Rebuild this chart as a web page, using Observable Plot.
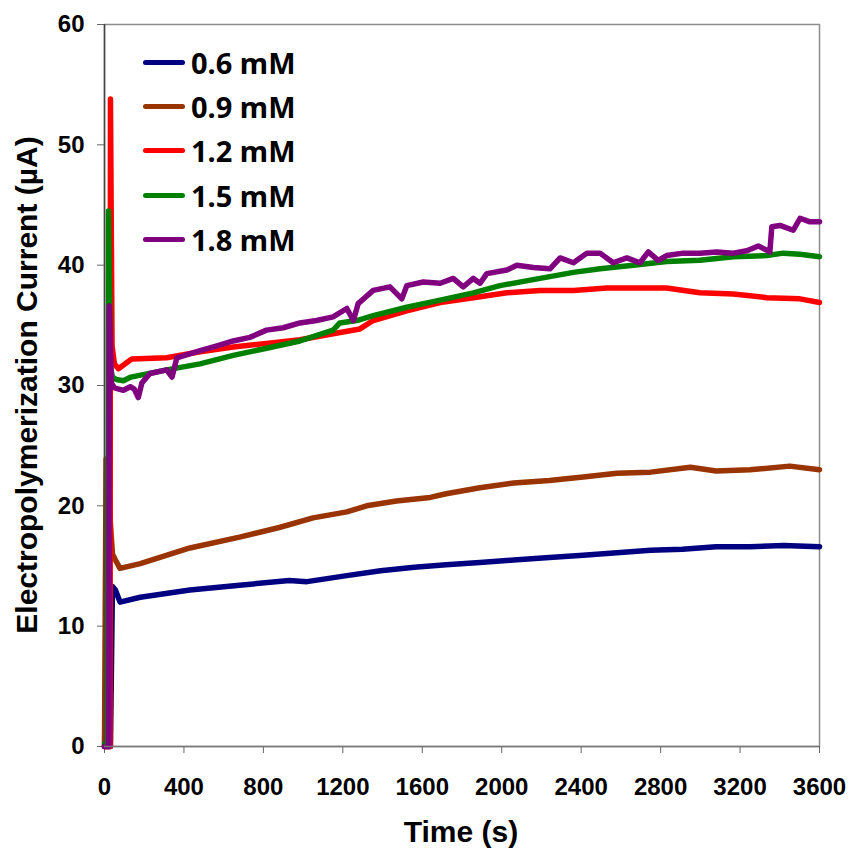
<!DOCTYPE html>
<html><head><meta charset="utf-8">
<script src="https://cdn.jsdelivr.net/npm/d3@7"></script>
<script src="https://cdn.jsdelivr.net/npm/@observablehq/plot@0.6"></script>
<style>
body{margin:0;background:#fff;}
#wrap{position:relative;width:850px;height:851px;}
#legend{position:absolute;left:143px;top:40px;font-family:"Noto Sans",sans-serif;font-weight:bold;font-size:29px;color:#000;}
.row{display:flex;align-items:center;height:44.3px;}
.sw{width:42px;height:5px;border-radius:2.5px;margin-right:6px;}
</style></head><body><div id="wrap"><div id="legend"></div></div>
<script>
const seriesNames = ["0.6 mM", "0.9 mM", "1.2 mM", "1.5 mM", "1.8 mM"];
const seriesColors = ["#000080", "#993300", "#ff0000", "#008000", "#800080"];
const xTicks = [0, 400, 800, 1200, 1600, 2000, 2400, 2800, 3200, 3600];
const yTicks = [0, 10, 20, 30, 40, 50, 60];

const t06 = [0, 30, 40, 55, 78, 180, 430, 680, 930, 1020, 1220, 1390, 1560, 1720, 1890, 2060, 2240, 2410, 2580, 2750, 2910, 3080, 3250, 3420, 3600];
const v06 = [0, 0, 13.3, 13.0, 12.0, 12.4, 13.0, 13.4, 13.8, 13.7, 14.2, 14.6, 14.9, 15.1, 15.3, 15.5, 15.7, 15.9, 16.1, 16.3, 16.4, 16.6, 16.6, 16.7, 16.6];

const t09 = [0, 8, 40, 55, 78, 180, 430, 680, 880, 1050, 1220, 1320, 1470, 1640, 1720, 1890, 2060, 2240, 2410, 2580, 2750, 2950, 3080, 3250, 3450, 3600];
const v09 = [0, 23.9, 16.0, 15.5, 14.8, 15.2, 16.5, 17.4, 18.2, 19.0, 19.5, 20.0, 20.4, 20.7, 21.0, 21.5, 21.9, 22.1, 22.4, 22.7, 22.8, 23.2, 22.9, 23.0, 23.3, 23.0];

const t12 = [0, 28, 30, 38, 50, 70, 137, 313, 481, 648, 816, 984, 1151, 1286, 1353, 1522, 1690, 1857, 2026, 2193, 2361, 2530, 2663, 2830, 2998, 3166, 3335, 3502, 3600];
const v12 = [0, 0, 53.8, 33.3, 31.8, 31.4, 32.2, 32.3, 32.8, 33.2, 33.5, 33.8, 34.3, 34.7, 35.4, 36.2, 36.9, 37.3, 37.7, 37.9, 37.9, 38.1, 38.1, 38.1, 37.7, 37.6, 37.3, 37.2, 36.9];

const t15 = [0, 18, 20, 30, 40, 60, 95, 133, 313, 481, 648, 816, 984, 1151, 1185, 1270, 1353, 1522, 1690, 1857, 1991, 2193, 2361, 2495, 2663, 2830, 2998, 3166, 3335, 3418, 3502, 3600];
const v15 = [0.2, 0.2, 44.5, 31.5, 30.7, 30.5, 30.4, 30.7, 31.3, 31.8, 32.5, 33.1, 33.7, 34.6, 35.2, 35.4, 35.8, 36.5, 37.1, 37.7, 38.3, 38.9, 39.4, 39.7, 40.0, 40.3, 40.4, 40.7, 40.8, 41.0, 40.9, 40.7];

const t18 = [0, 22, 24, 35, 50, 95, 130, 150, 170, 188, 229, 313, 340, 364, 481, 566, 648, 732, 816, 900, 984, 1068, 1151, 1220, 1253, 1277, 1353, 1437, 1497, 1522, 1605, 1690, 1756, 1806, 1857, 1891, 1925, 2026, 2076, 2160, 2243, 2294, 2361, 2429, 2495, 2561, 2630, 2696, 2738, 2788, 2830, 2914, 2998, 3082, 3166, 3234, 3292, 3350, 3360, 3401, 3468, 3502, 3552, 3600];
const v18 = [0, 0, 36.6, 30.2, 29.8, 29.6, 29.9, 29.7, 29.0, 30.2, 31.0, 31.3, 30.7, 32.3, 32.9, 33.3, 33.7, 34.0, 34.6, 34.8, 35.2, 35.4, 35.7, 36.4, 35.4, 36.8, 37.9, 38.2, 37.2, 38.3, 38.6, 38.5, 38.9, 38.2, 38.9, 38.5, 39.3, 39.6, 40.0, 39.8, 39.7, 40.6, 40.2, 41.0, 41.0, 40.2, 40.6, 40.2, 41.1, 40.4, 40.8, 41.0, 41.0, 41.1, 41.0, 41.2, 41.6, 41.1, 43.2, 43.3, 42.9, 43.9, 43.6, 43.6];

const seriesT = [t06, t09, t12, t15, t18];
const seriesV = [v06, v09, v12, v15, v18];
const data = seriesNames.flatMap((name, k) => seriesT[k].map((t, i) => ({t, v: seriesV[k][i], name})));

const W = 850, H = 851, mL = 104, mR = 31, mT = 24, mB = 105;
const FONT = '"Liberation Sans", Arial, sans-serif';

const chart = Plot.plot({
  width: W, height: H,
  marginLeft: mL, marginRight: mR, marginTop: mT, marginBottom: mB,
  style: {fontFamily: FONT, fontWeight: "bold", color: "#000", background: "#fff"},
  x: {domain: [0, 3600], label: null},
  y: {domain: [0, 60], label: null},
  color: {domain: seriesNames, range: seriesColors},
  marks: [
    Plot.frame({stroke: "#8c8c8c", strokeWidth: 1.5}),
    Plot.axisY({ticks: yTicks, tickSize: 7, tickPadding: 13, fontSize: 24, stroke: "#666", label: null, tickFormat: d => String(d)}),
    Plot.axisX({ticks: xTicks, tickSize: 7, tickPadding: 24, fontSize: 24, stroke: "#666", label: null, tickFormat: d => String(d)}),
    Plot.line(data, {x: "t", y: "v", z: "name", stroke: "name", strokeWidth: 5.5, strokeLinejoin: "round", strokeLinecap: "round"}),
    Plot.ruleX([0], {stroke: "#444", strokeWidth: 1.5}),
    Plot.ruleY([0], {stroke: "#777", strokeWidth: 1.5})
  ]
});

const svg = d3.select(chart);
svg.append("text")
  .attr("x", 461).attr("y", 842)
  .attr("text-anchor", "middle")
  .style("font-family", FONT)
  .style("font-size", "30px").style("font-weight", "bold")
  .text("Time (s)");
svg.append("text")
  .attr("transform", `translate(37,${(mT + H - mB) / 2}) rotate(-90)`)
  .attr("text-anchor", "middle")
  .style("font-family", FONT)
  .style("font-size", "30px").style("font-weight", "bold")
  .text("Electropolymerization Current (µA)");

document.getElementById("wrap").prepend(chart);

const legend = document.getElementById("legend");
seriesNames.forEach((n, i) => {
  const row = document.createElement("div");
  row.className = "row";
  const sw = document.createElement("div");
  sw.className = "sw";
  sw.style.background = seriesColors[i];
  const lab = document.createElement("span");
  lab.textContent = n;
  row.appendChild(sw); row.appendChild(lab);
  legend.appendChild(row);
});
</script></body></html>
